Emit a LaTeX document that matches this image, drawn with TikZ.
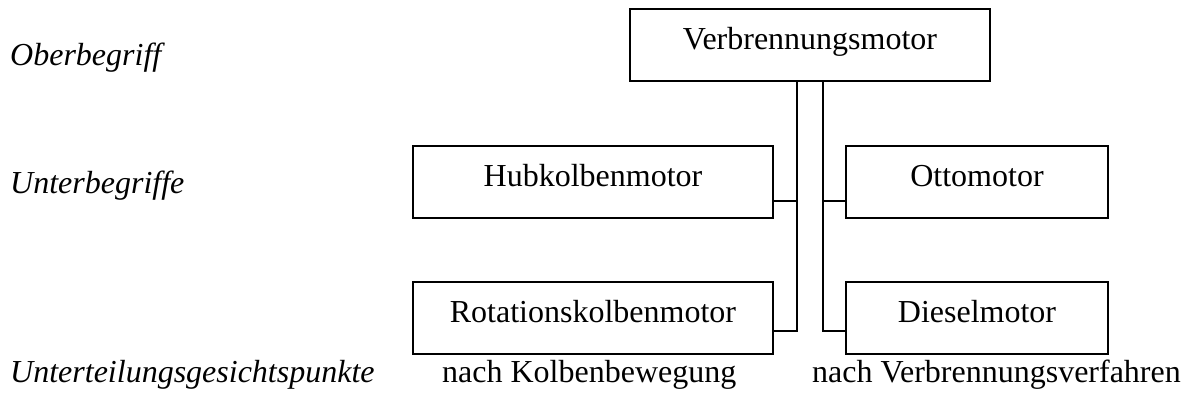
\documentclass[tikz,border=0pt]{standalone}
\usepackage{fontspec}
\setmainfont{Liberation Serif}
\begin{document}
\begin{tikzpicture}[x=1pt,y=-1pt,
  font=\fontsize{32}{38}\selectfont,
  box/.style={draw,line width=2pt,inner sep=0pt,minimum width=#1,
    minimum height=72pt,text height=40pt,text depth=32pt,align=center},
  conn/.style={line width=2pt},
  label/.style={anchor=base west,inner sep=0pt,font=\fontsize{32}{38}\selectfont\itshape},
  crit/.style={anchor=base,inner sep=0pt}]
\useasboundingbox (0,0) rectangle (1184,407);

% hierarchy boxes
\node[box=360pt] (V) at (810,45) {Verbrennungsmotor};
\node[box=360pt] (H) at (593,182) {Hubkolbenmotor};
\node[box=360pt] (R) at (593,318) {Rotationskolbenmotor};
\node[box=262pt] (O) at (977,182) {Ottomotor};
\node[box=262pt] (D) at (977,318) {Dieselmotor};

% trunk positions
\coordinate (lx) at (797,0);
\coordinate (rx) at (823,0);
\coordinate (uy) at (0,201);
\coordinate (ly) at (0,331);

% left branch: by piston motion
\draw[conn] (V.south -| lx) -- (lx |- ly) -- (R.east |- ly);
\draw[conn] (lx |- uy) -- (H.east |- uy);
% right branch: by combustion process
\draw[conn] (V.south -| rx) -- (rx |- ly) -- (D.west |- ly);
\draw[conn] (rx |- uy) -- (O.west |- uy);

% row labels
\node[label] (l1) at (10,65) {Oberbegriff};
\node[label] (l2) at (10,193) {Unterbegriffe};
\node[label] (l3) at (10,382) {Unterteilungsgesichtspunkte};

% subdivision criteria
\node[anchor=base west,inner sep=0pt] (c1) at (442,382) {nach Kolbenbewegung};
\node[anchor=base east,inner sep=0pt] (c2) at (1181,382) {nach Verbrennungsverfahren};
\end{tikzpicture}
\end{document}
